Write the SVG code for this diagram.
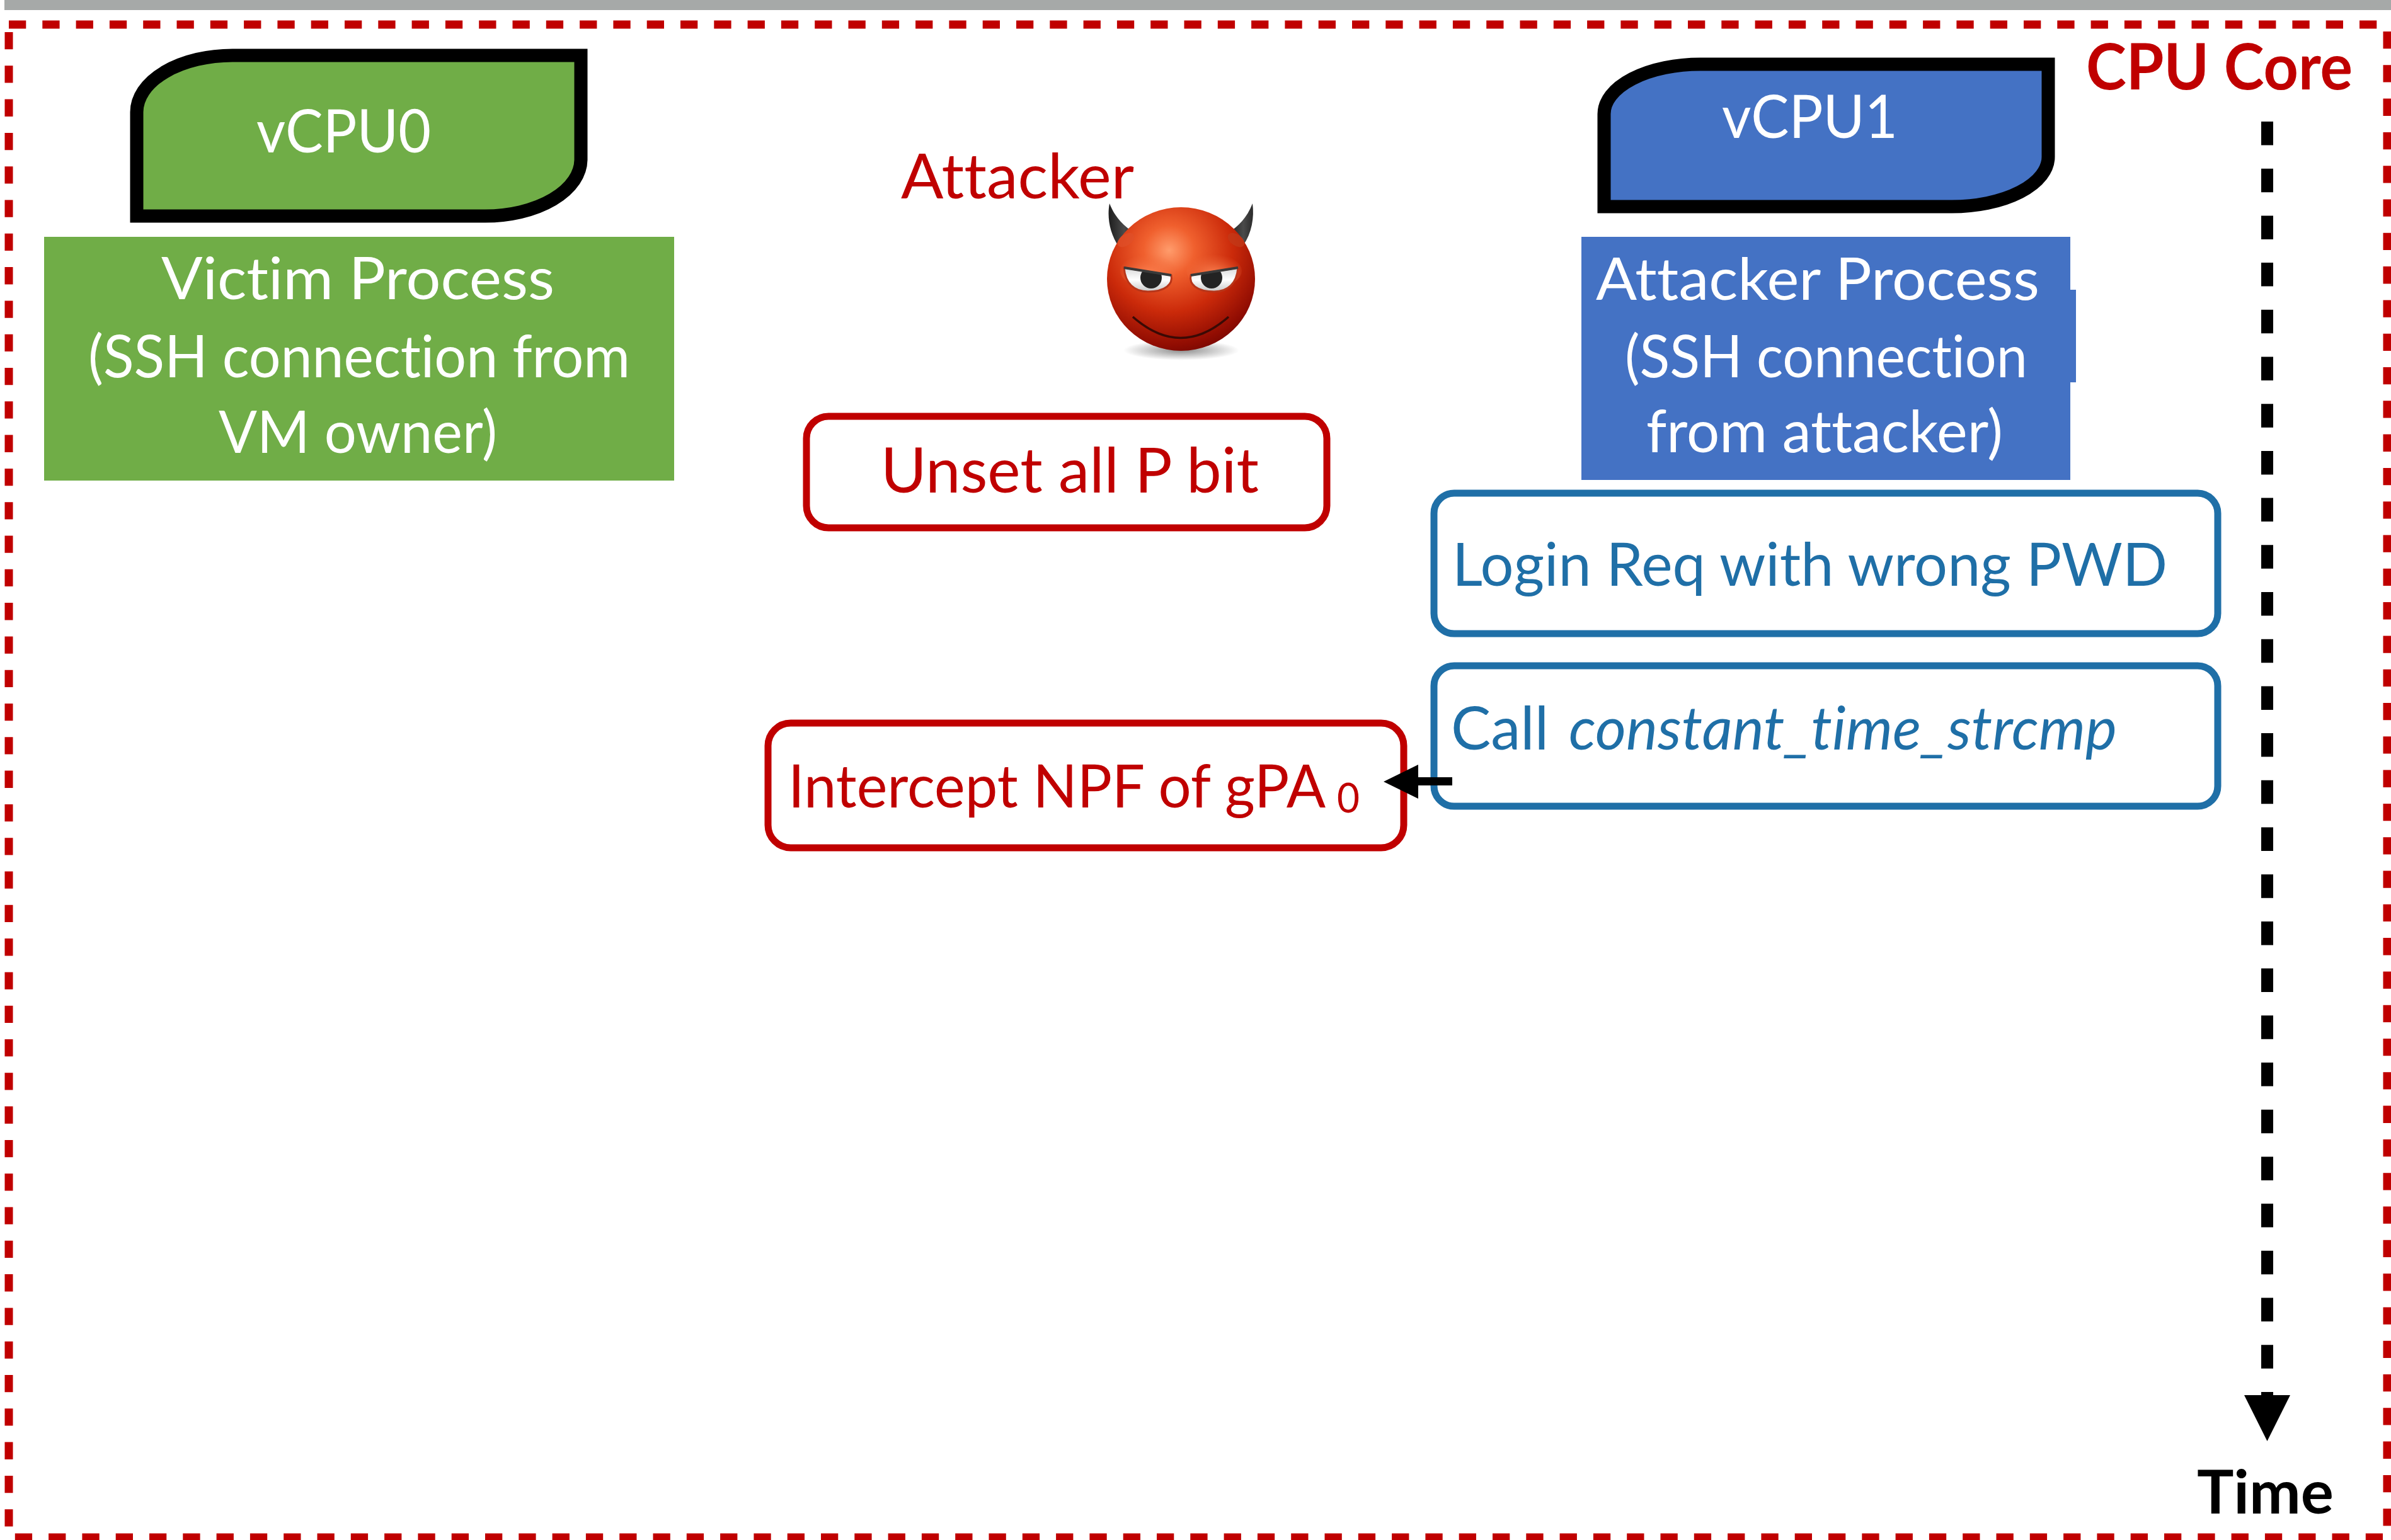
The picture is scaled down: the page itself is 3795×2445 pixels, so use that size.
<svg xmlns="http://www.w3.org/2000/svg" width="3795" height="2445" viewBox="0 0 3795 2445">
  <style>
    text { font-family: Lato, "Liberation Sans", sans-serif; font-variant-ligatures: none; font-feature-settings: "liga" 0, "clig" 0; }
    .white { fill: #FFFFFF; }
    .red { fill: #C00000; }
    .blue { fill: #1F6FA7; }
    .bold { font-weight: bold; }
    .border { stroke: #C00000; stroke-width: 13; stroke-dasharray: 27.3 26; fill: none; }
    .vcpu { stroke: #000000; stroke-width: 21; }
    .redbox { fill: #FFFFFF; stroke: #C00000; stroke-width: 11; }
    .bluebox { fill: #FFFFFF; stroke: #1F6FA7; stroke-width: 11; }
  </style>
  <defs>
    <radialGradient id="headGrad" cx="0.42" cy="0.3" r="0.78">
      <stop offset="0" stop-color="#FF9C6C"/>
      <stop offset="0.22" stop-color="#F0602E"/>
      <stop offset="0.55" stop-color="#CB2A0A"/>
      <stop offset="0.85" stop-color="#900C02"/>
      <stop offset="1" stop-color="#6A0500"/>
    </radialGradient>
    <radialGradient id="shadowGrad" cx="0.5" cy="0.5" r="0.5">
      <stop offset="0" stop-color="#000000" stop-opacity="0.45"/>
      <stop offset="1" stop-color="#000000" stop-opacity="0"/>
    </radialGradient>
    <linearGradient id="hornGrad" x1="0" y1="0" x2="1" y2="0">
      <stop offset="0" stop-color="#1E1E1E"/>
      <stop offset="0.6" stop-color="#4A4A4A"/>
      <stop offset="1" stop-color="#2A2A2A"/>
    </linearGradient>
    <linearGradient id="eyeGrad" x1="0" y1="0" x2="0" y2="1">
      <stop offset="0" stop-color="#D8D8D8"/>
      <stop offset="0.5" stop-color="#FFFFFF"/>
      <stop offset="1" stop-color="#C8C8C8"/>
    </linearGradient>
    <radialGradient id="lidGrad" cx="0.5" cy="0.6" r="0.6">
      <stop offset="0" stop-color="#FF8A5A" stop-opacity="0.9"/>
      <stop offset="1" stop-color="#F06A3A" stop-opacity="0"/>
    </radialGradient>
    <clipPath id="eyeL">
      <path d="M 1784 425 L 1859 437 C 1862 451 1850 463 1822 463 C 1800 463 1786 450 1784 425 Z"/>
    </clipPath>
    <clipPath id="eyeR">
      <path d="M 1965 425 L 1890 437 C 1887 451 1899 463 1927 463 C 1949 463 1963 450 1965 425 Z"/>
    </clipPath>
  </defs>

  <rect width="3795" height="2445" fill="#FFFFFF"/>

  <!-- slide header strip -->
  <rect x="7" y="0" width="3788" height="16" fill="#A6A9A8"/>

  <!-- CPU core frame -->
  <g id="cpu-core">
    <line class="border" x1="14" y1="39" x2="3776" y2="39"/>
    <line class="border" x1="14" y1="51" x2="14" y2="2434"/>
    <line class="border" x1="3789" y1="50" x2="3789" y2="2424"/>
    <line class="border" x1="23.8" y1="2441" x2="3782" y2="2441"/>
    <text class="red bold" x="3311" y="142" font-size="102" textLength="423" lengthAdjust="spacingAndGlyphs">CPU Core</text>
  </g>

  <!-- vCPU0 and victim -->
  <g id="vcpu0">
    <path class="vcpu" fill="#70AD47" d="M 217 343 L 217 178 A 152 90 0 0 1 369 88 L 922 88 L 922 253 A 152 90 0 0 1 770 343 Z"/>
    <text class="white" x="407" y="242" font-size="95" textLength="277" lengthAdjust="spacingAndGlyphs">vCPU0</text>
  </g>
  <g id="victim-process">
    <rect x="70" y="376" width="1000" height="387" fill="#70AD47"/>
    <text class="white" x="256" y="475" font-size="94" textLength="624" lengthAdjust="spacingAndGlyphs">Victim Process</text>
    <text class="white" x="140" y="599" font-size="94" textLength="860" lengthAdjust="spacingAndGlyphs">(SSH connection from</text>
    <text class="white" x="347" y="719" font-size="94" textLength="442" lengthAdjust="spacingAndGlyphs">VM owner)</text>
  </g>

  <!-- vCPU1 and attacker process -->
  <g id="vcpu1">
    <path class="vcpu" fill="#4472C4" d="M 2546 328 L 2546 181 A 153 79 0 0 1 2699 102 L 3251 102 L 3251 249 A 153 79 0 0 1 3098 328 Z"/>
    <text class="white" x="2733" y="219" font-size="95" textLength="279" lengthAdjust="spacingAndGlyphs">vCPU1</text>
  </g>
  <g id="attacker-process">
    <rect x="2510" y="376" width="776" height="386" fill="#4472C4"/>
    <rect x="3285" y="460" width="10" height="147" fill="#4472C4"/>
    <text class="white" x="2533" y="476" font-size="94" textLength="704" lengthAdjust="spacingAndGlyphs">Attacker Process</text>
    <text class="white" x="2579" y="599" font-size="94" textLength="639" lengthAdjust="spacingAndGlyphs">(SSH connection</text>
    <text class="white" x="2613" y="718" font-size="94" textLength="566" lengthAdjust="spacingAndGlyphs">from attacker)</text>
  </g>

  <!-- attacker label and devil icon -->
  <g id="attacker">
    <text class="red" x="1430" y="315" font-size="98" textLength="370" lengthAdjust="spacingAndGlyphs">Attacker</text>
    <ellipse cx="1875" cy="556" rx="92" ry="16" fill="url(#shadowGrad)"/>
    <path d="M 1776 392 C 1761 370 1757 345 1761 323 C 1770 346 1785 360 1801 370 Z" fill="url(#hornGrad)"/>
    <path d="M 1973 390 C 1987 370 1991 345 1988 323 C 1979 346 1965 360 1950 369 Z" fill="url(#hornGrad)"/>
    <ellipse cx="1874.5" cy="443" rx="117.5" ry="114" fill="url(#headGrad)"/>
    <ellipse cx="1787" cy="381" rx="15" ry="9" fill="#E0502A" opacity="0.7" transform="rotate(-35 1787 381)"/>
    <ellipse cx="1962" cy="381" rx="15" ry="9" fill="#C23A1A" opacity="0.7" transform="rotate(35 1962 381)"/>
    <ellipse cx="1822" cy="430" rx="44" ry="26" fill="url(#lidGrad)"/>
    <ellipse cx="1927" cy="430" rx="44" ry="26" fill="url(#lidGrad)"/>
    <path d="M 1784 425 L 1859 437 C 1862 451 1850 463 1822 463 C 1800 463 1786 450 1784 425 Z" fill="url(#eyeGrad)" stroke="#B8361A" stroke-width="3"/>
    <path d="M 1965 425 L 1890 437 C 1887 451 1899 463 1927 463 C 1949 463 1963 450 1965 425 Z" fill="url(#eyeGrad)" stroke="#B8361A" stroke-width="3"/>
    <circle cx="1827" cy="441" r="17" fill="#232323" clip-path="url(#eyeL)"/>
    <circle cx="1923" cy="441" r="17" fill="#232323" clip-path="url(#eyeR)"/>
    <path d="M 1784 425 L 1859 437" stroke="#3A3A3A" stroke-width="4" fill="none"/>
    <path d="M 1965 425 L 1890 437" stroke="#3A3A3A" stroke-width="4" fill="none"/>
    <path d="M 1798 503 Q 1874 570 1950 503" stroke="#3A0A05" stroke-width="3.5" fill="none"/>
  </g>

  <g id="unset-p-bit">
    <rect class="redbox" x="1280" y="661" width="826" height="177" rx="35" ry="35"/>
    <text class="red" x="1398" y="782" font-size="98" textLength="600" lengthAdjust="spacingAndGlyphs">Unset all P bit</text>
  </g>

  <g id="login-req">
    <rect class="bluebox" x="2276" y="783" width="1244" height="223" rx="32" ry="32"/>
    <text class="blue" x="2305" y="930" font-size="95" textLength="1135" lengthAdjust="spacingAndGlyphs">Login Req with wrong PWD</text>
  </g>

  <g id="call-strcmp">
    <rect class="bluebox" x="2276" y="1057" width="1244" height="223" rx="32" ry="32"/>
    <text class="blue" x="2303" y="1190" font-size="95" textLength="155" lengthAdjust="spacingAndGlyphs">Call</text>
    <text class="blue" x="2490" y="1190" font-size="95" font-style="italic" textLength="870" lengthAdjust="spacingAndGlyphs">constant_time_strcmp</text>
  </g>

  <g id="intercept-npf">
    <rect class="redbox" x="1219" y="1148" width="1009" height="198" rx="36" ry="36"/>
    <text class="red" x="1251" y="1282" font-size="95"><tspan textLength="853" lengthAdjust="spacingAndGlyphs">Intercept NPF of gPA</tspan><tspan x="2122" y="1290" font-size="66" textLength="36" lengthAdjust="spacingAndGlyphs">0</tspan></text>
  </g>

  <!-- connectors -->
  <g id="connectors">
    <g id="call-to-intercept">
      <rect x="2249" y="1234" width="56" height="13" fill="#000000"/>
      <polygon points="2196,1241 2251,1214 2251,1268" fill="#000000"/>
    </g>
    <g id="time-axis">
      <line x1="3598.5" y1="193" x2="3598.5" y2="2216" stroke="#000000" stroke-width="19" stroke-dasharray="37.5 37.2"/>
      <polygon points="3562,2215 3635,2215 3598.5,2288" fill="#000000"/>
      <text class="bold" x="3487" y="2403" font-size="95" fill="#000000" textLength="217" lengthAdjust="spacingAndGlyphs">Time</text>
    </g>
  </g>
</svg>
